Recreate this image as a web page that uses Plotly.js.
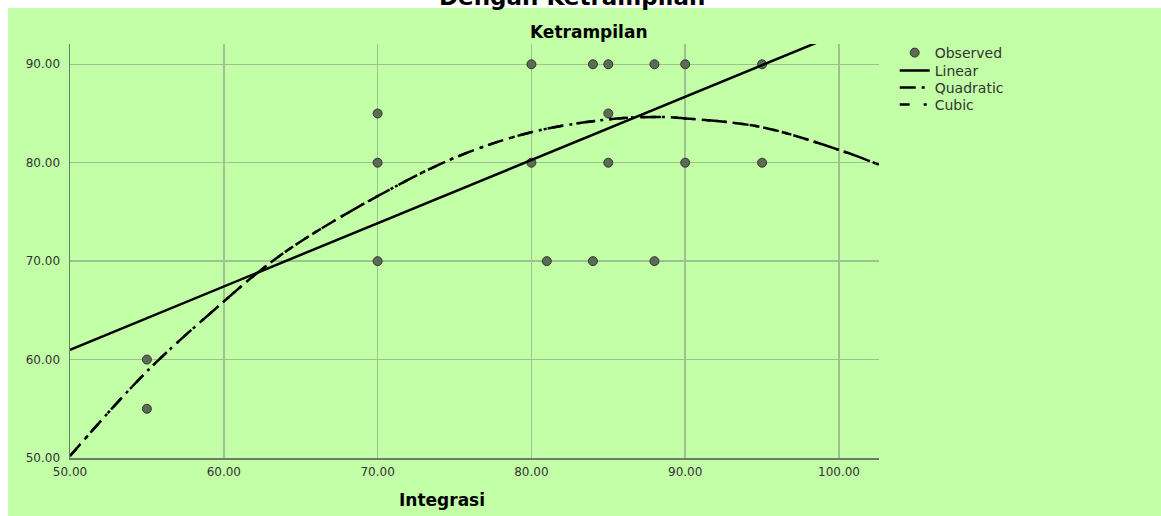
<!DOCTYPE html>
<html>
<head>
<meta charset="utf-8">
<script src="https://cdn.plot.ly/plotly-3.0.1.min.js"></script>
<style>
html,body{margin:0;padding:0;background:#ffffff;}
#chart{width:1161px;height:516px;}
</style>
</head>
<body>
<div id="chart"></div>
<script>
// Observed data (Integrasi vs Ketrampilan)
const obsX = [55, 55, 70, 70, 70, 80, 80, 81, 84, 84, 85, 85, 85, 88, 88, 90, 90, 95, 95];
const obsY = [60, 55, 85, 80, 70, 90, 80, 70, 90, 70, 90, 85, 80, 90, 70, 90, 80, 90, 80];

// Fitted lines, values
const linX = [50, 102.6];
const linY = [61.0, 94.8];

const quadX = [50, 55, 60, 62.5, 65, 70, 75, 80, 85, 88, 90, 95, 100, 102.6];
const quadY = [50.2, 58.8, 65.9, 69.2, 72.0, 76.6, 80.5, 83.1, 84.4, 84.65, 84.5, 83.6, 81.3, 79.8];

const cubicX = [50, 55, 60, 62.5, 65, 70, 75, 80, 85, 88, 90, 95, 100, 102.6];
const cubicY = [50.2, 58.8, 65.9, 69.2, 72.0, 76.6, 80.5, 83.1, 84.4, 84.65, 84.5, 83.6, 81.3, 79.8];

const xTicks = [50, 60, 70, 80, 90, 100];
const yTicks = [50, 60, 70, 80, 90];

const W = 1161, H = 516;
const L = 70, R = 879.3, T = 44, B = 458;
const px = x => (x - L) / (R - L);
const py = y => (B - y) / (B - T);

const GREEN = '#c2ffa7';
const FONT = 'DejaVu Sans, Verdana, sans-serif';

const traces = [
  {x: obsX, y: obsY, type: 'scatter', mode: 'markers', name: 'Observed', legend: 'legend',
   marker: {size: 9, color: '#5b6b55', line: {color: '#2f3a2c', width: 1}}},
  {x: linX, y: linY, type: 'scatter', mode: 'lines', name: 'Linear', legend: 'legend2',
   line: {color: '#000000', width: 2.5}},
  {x: quadX, y: quadY, type: 'scatter', mode: 'lines', name: 'Quadratic', legend: 'legend3',
   line: {color: '#000000', width: 2.5, shape: 'spline', dash: '16px,6px,3px,6px'}},
  {x: cubicX, y: cubicY, type: 'scatter', mode: 'lines', name: 'Cubic', legend: 'legend4',
   line: {color: '#000000', width: 2.5, shape: 'spline', dash: '10px,14px,3px,6px'}}
];

const axisCommon = {
  showgrid: true, gridcolor: '#9fc190', gridwidth: 1.5,
  showline: true, linecolor: '#6b7b66', linewidth: 1.5,
  zeroline: false, ticks: '', tickformat: '.2f',
  tickfont: {family: FONT, size: 12, color: '#333333'}
};

function leg(rowY) {
  return {x: px(895), y: py(rowY - 16), xanchor: 'left', yanchor: 'top',
    bgcolor: 'rgba(0,0,0,0)', borderwidth: 0,
    font: {family: FONT, size: 14, color: '#333333'}};
}

const layout = {
  width: W, height: H,
  margin: {l: L, r: W - R, t: T, b: H - B, pad: 0},
  paper_bgcolor: '#ffffff',
  plot_bgcolor: GREEN,
  showlegend: true,
  xaxis: Object.assign({}, axisCommon, {range: [50, 102.6], tickvals: xTicks, ticklabelstandoff: 2}),
  yaxis: Object.assign({}, axisCommon, {range: [50, 92.06], tickvals: yTicks, ticklabelstandoff: 6}),
  legend: leg(53),
  legend2: leg(71),
  legend3: leg(88),
  legend4: leg(105),
  shapes: [
    {type: 'rect', xref: 'paper', yref: 'paper', layer: 'below',
     x0: px(8), x1: px(W + 10), y0: py(H + 10), y1: py(8),
     fillcolor: GREEN, line: {width: 0}}
  ],
  annotations: [
    {text: '<b>Dengan Ketrampilan</b>', xref: 'paper', yref: 'paper',
     x: px(572), y: py(-3), xanchor: 'center', yanchor: 'middle', showarrow: false,
     font: {family: FONT, size: 23, color: '#000000'}},
    {text: '<b>Ketrampilan</b>', xref: 'paper', yref: 'paper',
     x: px(589), y: py(32), xanchor: 'center', yanchor: 'middle', showarrow: false,
     font: {family: FONT, size: 17, color: '#000000'}},
    {text: '<b>Integrasi</b>', xref: 'paper', yref: 'paper',
     x: px(442), y: py(500), xanchor: 'center', yanchor: 'middle', showarrow: false,
     font: {family: FONT, size: 17, color: '#000000'}}
  ]
};

Plotly.newPlot('chart', traces, layout, {displayModeBar: false, staticPlot: true});
</script>
</body>
</html>
